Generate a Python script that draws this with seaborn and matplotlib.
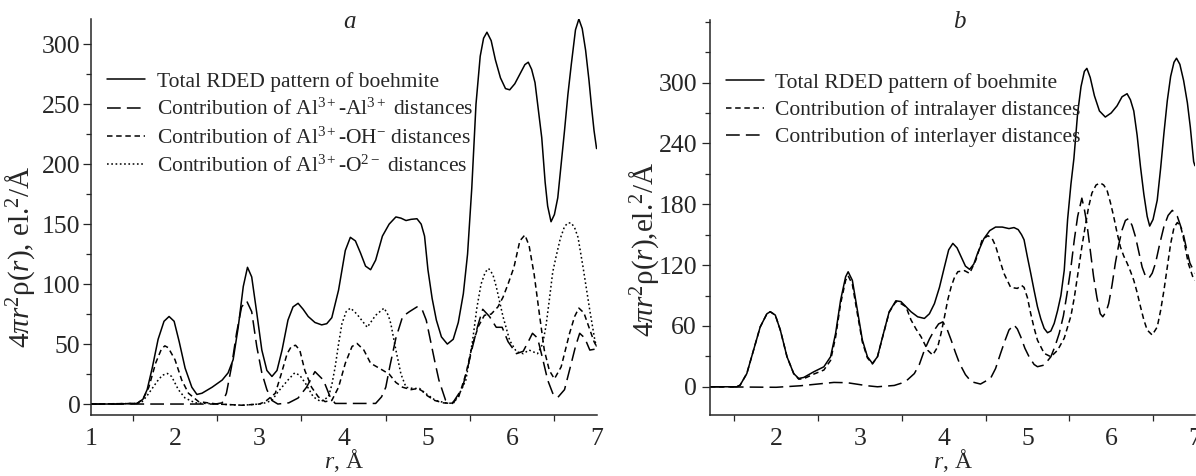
import numpy as np
import pandas as pd
import seaborn as sns
import matplotlib
matplotlib.use("Agg")
import matplotlib.pyplot as plt
from matplotlib.lines import Line2D
from matplotlib.ticker import MultipleLocator

# ---------------- data: panel a ----------------
r_total_a = [1.0, 1.3, 1.55, 1.62, 1.67, 1.73, 1.80, 1.87, 1.93, 1.99, 2.05, 2.12, 2.20, 2.26, 2.32,
             2.44, 2.56, 2.63, 2.69, 2.75, 2.81, 2.86, 2.91, 2.97, 3.03, 3.09, 3.15, 3.21, 3.27, 3.34,
             3.40, 3.46, 3.52, 3.58, 3.66, 3.74, 3.80, 3.86, 3.94, 4.02, 4.08, 4.14, 4.20, 4.26, 4.32,
             4.38, 4.46, 4.54, 4.62, 4.68, 4.74, 4.80, 4.87, 4.92, 4.96, 5.00, 5.05, 5.10, 5.16, 5.23,
             5.30, 5.36, 5.42, 5.47, 5.52, 5.57, 5.62, 5.66, 5.70, 5.75, 5.80, 5.86, 5.92, 5.97, 6.03,
             6.09, 6.15, 6.19, 6.23, 6.27, 6.31, 6.35, 6.39, 6.42, 6.46, 6.50, 6.54, 6.58, 6.62, 6.66,
             6.70, 6.75, 6.79, 6.83, 6.87, 6.91, 6.94, 6.97, 7.0]
total_a = [0, 0, 0.5, 4, 12, 30, 54, 69, 73, 69, 52, 30, 14, 8, 9,
           14, 20, 26, 37, 64, 98, 114, 106, 76, 45, 28, 23, 28, 45, 70,
           81, 84, 79, 73, 68, 66, 67, 72, 95, 128, 139, 136, 126, 115, 112,
           120, 140, 150, 156, 155, 153, 154, 154.5, 150, 140, 112, 88, 70, 56, 50,
           54, 68, 92, 125, 180, 250, 290, 305, 310, 303, 287, 272, 263, 262, 267,
           275, 283, 285, 279, 268, 245, 222, 185, 165, 152, 158, 172, 200, 228, 258,
           283, 312, 321, 313, 295, 270, 248, 228, 213]

r_alal = [1.0, 2.48, 2.56, 2.61, 2.67, 2.73, 2.79, 2.85, 2.91, 2.97, 3.03, 3.09, 3.15, 3.22, 3.35,
          3.46, 3.56, 3.66, 3.76, 3.84, 3.90, 4.38, 4.45, 4.50, 4.55, 4.62, 4.70, 4.78, 4.87, 4.93,
          4.98, 5.03, 5.08, 5.13, 5.21, 5.29, 5.36, 5.41, 5.47, 5.53, 5.59, 5.65, 5.73, 5.81, 5.88,
          5.95, 6.05, 6.13, 6.19, 6.24, 6.30, 6.36, 6.42, 6.48, 6.54, 6.62, 6.70, 6.75, 6.80, 6.86,
          6.92, 7.0]
alal = [0, 0, 1, 9, 31, 59, 81, 86, 77, 48, 26, 12, 3, 0, 1,
        5, 14, 27, 20, 6, 0.5, 0.5, 6, 14, 32, 55, 73, 77, 81, 79,
        70, 53, 36, 20, 3, 0.5, 8, 14, 30, 48, 65, 79, 73, 64, 64,
        52, 42, 44, 52, 59, 55, 38, 20, 9, 5.5, 12, 34, 48, 59, 55,
        45, 46]

r_aloh = [1.0, 1.55, 1.62, 1.69, 1.77, 1.84, 1.88, 1.92, 2.0, 2.08, 2.16, 2.28, 2.5, 2.8, 3.0,
          3.07, 3.19, 3.26, 3.33, 3.38, 3.43, 3.48, 3.54, 3.62, 3.70, 3.78, 3.86, 3.94, 4.02, 4.10,
          4.16, 4.24, 4.32, 4.42, 4.54, 4.62, 4.70, 4.80, 4.88, 4.93, 4.98, 5.08, 5.18, 5.28, 5.36,
          5.45, 5.53, 5.60, 5.67, 5.75, 5.83, 5.89, 5.95, 6.02, 6.09, 6.15, 6.20, 6.26, 6.32, 6.38,
          6.44, 6.50, 6.58, 6.68, 6.74, 6.79, 6.85, 6.92, 6.97, 7.0]
aloh = [0, 0.5, 4, 14, 34, 46, 48.5, 47, 37, 20, 9, 2, 0, -1, 0,
        2, 9, 25, 42, 48, 49, 45, 28, 14, 6, 2, 3, 14, 34, 48,
        50.5, 45, 34, 30, 25, 18, 14, 12, 13, 11, 7.5, 3, 1, 0.5, 5,
        25, 50, 65, 74, 75, 81, 89, 100, 114, 136, 141, 132, 108, 76, 45,
        28, 21, 31, 59, 73, 80, 76, 62, 52, 48]

r_alo = [1.0, 1.55, 1.61, 1.67, 1.73, 1.79, 1.85, 1.91, 1.96, 2.04, 2.12, 2.24, 2.5, 2.8, 3.0,
         3.07, 3.15, 3.22, 3.28, 3.34, 3.42, 3.48, 3.55, 3.64, 3.73, 3.82, 3.86, 3.90, 3.94, 3.98,
         4.03, 4.08, 4.13, 4.18, 4.28, 4.38, 4.48, 4.53, 4.56, 4.62, 4.68, 4.74, 4.82, 4.90, 4.97,
         5.09, 5.21, 5.30, 5.37, 5.45, 5.53, 5.58, 5.63, 5.68, 5.72, 5.77, 5.81, 5.89, 5.97, 6.05,
         6.13, 6.20, 6.30, 6.36, 6.40, 6.44, 6.48, 6.52, 6.57, 6.62, 6.66, 6.70, 6.74, 6.78, 6.84,
         6.92, 6.98, 7.0]
alo = [0, 0.5, 2, 7, 13, 19, 24, 25.5, 23, 12, 5, 1, 0, -1, 0,
       1, 3, 10, 15, 20, 26, 24, 17, 6, 2, 6, 16, 31, 50, 67,
       77, 80, 77, 73, 64, 74, 80, 74, 67, 45, 25, 14, 13, 13, 9,
       3, 1, 0.5, 8, 20, 53, 80, 100, 110, 113, 108, 98, 73, 53, 43.6,
       42, 45, 42, 50, 65, 87, 110, 123, 138, 148, 151, 151, 147, 139, 114,
       78, 53, 48]

# ---------------- data: panel b ----------------
r_total_b = [1.21, 1.53, 1.57, 1.65, 1.73, 1.81, 1.89, 1.93, 1.99, 2.05, 2.13, 2.21, 2.27, 2.33, 2.45,
             2.57, 2.65, 2.71, 2.77, 2.83, 2.86, 2.91, 2.97, 3.03, 3.09, 3.15, 3.21, 3.27, 3.35, 3.43,
             3.49, 3.55, 3.61, 3.69, 3.77, 3.83, 3.89, 3.95, 4.01, 4.06, 4.11, 4.16, 4.21, 4.26, 4.31,
             4.36, 4.405, 4.48, 4.55, 4.62, 4.70, 4.78, 4.84, 4.89, 4.93, 4.96, 5.00, 5.04, 5.08, 5.12,
             5.16, 5.20, 5.24, 5.28, 5.32, 5.36, 5.40, 5.44, 5.48, 5.52, 5.555, 5.60, 5.64, 5.68, 5.71,
             5.75, 5.80, 5.86, 5.93, 6.00, 6.07, 6.13, 6.19, 6.23, 6.27, 6.31, 6.35, 6.39, 6.43, 6.46,
             6.50, 6.55, 6.59, 6.63, 6.67, 6.71, 6.75, 6.78, 6.82, 6.865, 6.91, 6.945, 6.985, 7.0]
total_b = [0, 0, 1.6, 13, 36, 59, 72, 74, 70.7, 56, 29.6, 13, 8.2, 9.2, 14.8,
           19.7, 29.6, 52.6, 85.5, 108.5, 113.4, 105, 75.6, 46, 29.6, 23, 29.6, 49, 74, 84.8,
           84, 79, 74, 69, 67.4, 72, 82, 98, 118.4, 135, 141.4, 137, 128, 119, 115.8,
           121, 131.6, 146, 154, 157.5, 157.5, 156, 157, 155, 150, 145, 128, 111.8, 95, 79,
           67, 57.6, 53.3, 55, 62.5, 75, 90, 115, 165, 200, 225, 270, 296, 311, 314,
           305, 287, 272, 266, 270, 277, 286, 289, 283, 272, 248, 217, 190, 168, 158.5,
           165, 184, 215, 250, 282, 306, 320, 324, 318, 302, 280, 256, 222, 218]

r_intra = [1.21, 1.53, 1.57, 1.65, 1.73, 1.81, 1.89, 1.93, 1.99, 2.05, 2.13, 2.21, 2.27, 2.33, 2.45,
           2.57, 2.65, 2.71, 2.77, 2.83, 2.86, 2.91, 2.97, 3.03, 3.09, 3.15, 3.21, 3.27, 3.35, 3.43,
           3.49, 3.55, 3.61, 3.67, 3.73, 3.81, 3.87, 3.93, 3.97, 4.01, 4.05, 4.09, 4.13, 4.17, 4.25,
           4.31, 4.385, 4.46, 4.53, 4.58, 4.62, 4.67, 4.72, 4.80, 4.88, 4.93, 4.96, 5.00, 5.04, 5.08,
           5.12, 5.20, 5.28, 5.36, 5.44, 5.52, 5.56, 5.60, 5.65, 5.69, 5.73, 5.77, 5.82, 5.87, 5.91,
           5.95, 5.99, 6.03, 6.07, 6.11, 6.15, 6.19, 6.23, 6.27, 6.31, 6.35, 6.39, 6.43, 6.49, 6.55,
           6.59, 6.63, 6.67, 6.71, 6.75, 6.79, 6.83, 6.86, 6.92, 6.98, 7.0]
intra = [0, 0, 1.6, 13, 36, 59, 72, 74, 70.7, 56, 29.6, 13, 7.5, 8, 12.5,
         16.5, 26, 49, 82, 105, 109.5, 101, 72, 44, 28.5, 22.5, 29.6, 48.5, 73.5, 84,
         82, 79, 66, 57, 49.4, 36, 31.3, 39.5, 53, 69, 86, 98.7, 108, 113.5, 114.5,
         111.8, 125, 145, 149, 146, 139, 125, 111.8, 98, 97, 100, 98, 88, 72, 58,
         46, 33, 29.6, 36, 48, 70, 88, 110, 138, 158, 177, 191, 199, 201, 199,
         194, 182, 168, 152, 138, 129, 122, 114, 105, 93, 79, 66, 56, 51, 59,
         75, 95, 118, 141, 157, 162, 158, 148, 122, 107, 105]

r_inter = [1.21, 2.0, 2.29, 2.69, 2.85, 3.09, 3.21, 3.41, 3.49, 3.57, 3.65, 3.71, 3.77, 3.83, 3.89,
           3.94, 3.99, 4.04, 4.09, 4.14, 4.19, 4.26, 4.33, 4.44, 4.56, 4.62, 4.68, 4.73, 4.78, 4.84,
           4.88, 4.92, 4.97, 5.02, 5.08, 5.12, 5.20, 5.28, 5.33, 5.38, 5.43, 5.48, 5.52, 5.56, 5.60,
           5.65, 5.68, 5.71, 5.75, 5.79, 5.83, 5.87, 5.90, 5.94, 5.97, 6.01, 6.05, 6.09, 6.13, 6.17,
           6.21, 6.25, 6.29, 6.33, 6.37, 6.41, 6.45, 6.49, 6.53, 6.58, 6.63, 6.68, 6.73, 6.79, 6.86,
           6.90, 6.94, 7.0]
inter = [0, -0.5, 1, 4.3, 4, 1, 0, 1.3, 3.4, 7, 13, 22, 36, 47, 56,
         62, 64, 57, 46, 34, 23, 12, 5, 2.7, 8.3, 18, 33, 45, 56, 61,
         57, 49.4, 38, 29.6, 22, 19.8, 21.4, 29.6, 40, 52.7, 70, 95.4, 118, 145, 168,
         186, 175, 161, 135, 108.6, 88, 72, 69, 74, 82, 100, 122, 140, 154.6, 164,
         166, 159, 148, 133, 118, 109, 107, 112, 122, 141, 158, 169, 174, 168, 151,
         136, 122, 112]

labels_a = ["Total RDED pattern of boehmite",
            r"Contribution of Al$^{3+}$-Al$^{3+}$ distances",
            r"Contribution of Al$^{3+}$-OH$^{-}$ distances",
            r"Contribution of Al$^{3+}$-O$^{2-}$ distances"]
labels_b = ["Total RDED pattern of boehmite",
            "Contribution of intralayer distances",
            "Contribution of interlayer distances"]
yticks_a = [0, 50, 100, 150, 200, 250, 300]
yticks_b = [0, 60, 120, 180, 240, 300]
xticks = [1, 2, 3, 4, 5, 6, 7]

# ---------------- style ----------------
sns.set_style("ticks")
plt.rcParams["font.family"] = ["Liberation Serif", "DejaVu Serif"]
plt.rcParams["mathtext.fontset"] = "custom"
plt.rcParams["mathtext.rm"] = "Liberation Serif"
plt.rcParams["mathtext.it"] = "Liberation Serif:italic"
plt.rcParams["mathtext.bf"] = "Liberation Serif:bold"

FS = 15.5      # legend
TFS = 18.5     # tick labels
XLFS = 17      # x label
YLFS = 21      # y label
LW = 1.1
SOLID = "-"
LONG = (0, (9, 4))
SHORT = (0, (3.6, 2.4))
DOT = (0, (1.1, 1.7))

fig = plt.figure(figsize=(11.96, 4.76), dpi=100)
axa = fig.add_axes([0.0758, 0.128, 0.423, 0.833])
axb = fig.add_axes([0.5936, 0.128, 0.4055, 0.830])


def draw(ax, r, v, ls):
    sns.lineplot(x=r, y=v, ax=ax, color="black", lw=LW, linestyle=ls, sort=False,
                 estimator=None, legend=False)


draw(axa, r_alal, alal, LONG)
draw(axa, r_aloh, aloh, SHORT)
draw(axa, r_alo, alo, DOT)
draw(axa, r_total_a, total_a, SOLID)

draw(axb, r_inter, inter, LONG)
draw(axb, r_intra, intra, SHORT)
draw(axb, r_total_b, total_b, SOLID)

for ax in (axa, axb):
    for s in ("top", "right"):
        ax.spines[s].set_visible(False)
    for s in ("left", "bottom"):
        ax.spines[s].set_linewidth(1.1)
    ax.set_xticks(xticks)
    ax.xaxis.set_minor_locator(MultipleLocator(0.5))
    ax.tick_params(axis="x", which="major", length=0, pad=9, labelsize=TFS)
    ax.tick_params(axis="x", which="minor", length=4.5, width=0.9, direction="out")
    ax.tick_params(axis="y", which="major", length=5.8, width=0.9, pad=1.5, labelsize=TFS)
    ax.tick_params(axis="y", which="minor", length=3.6, width=0.9)
    ax.set_xlabel(r"$r$, Å", fontsize=XLFS, labelpad=-1.5)

axa.set_xlim(1, 7)
axa.set_ylim(-9.2, 321.4)
axa.set_yticks(yticks_a)
axa.yaxis.set_minor_locator(MultipleLocator(25))
axa.set_ylabel(r"4$\pi r^2$ρ($r$), el.$^2$/Å", fontsize=YLFS)
axa.yaxis.set_label_coords(-0.106, 0.40)
axa.text(0.512, 0.975, "a", transform=axa.transAxes, fontsize=18, style="italic",
         ha="center", va="baseline")

axb.set_xlim(1.21, 7)
axb.set_ylim(-27.9, 361.7)
axb.set_yticks(yticks_b)
axb.yaxis.set_minor_locator(MultipleLocator(30))
axb.set_ylabel(r"4$\pi r^2$ρ($r$),el.$^2$/Å", fontsize=YLFS)
axb.yaxis.set_label_coords(-0.100, 0.42)
axb.tick_params(axis="y", which="major", pad=3.5)
axb.text(0.515, 0.98, "b", transform=axb.transAxes, fontsize=18, style="italic",
         ha="center", va="baseline")

hs_a = [Line2D([], [], color="black", lw=LW, linestyle=s) for s in (SOLID, LONG, SHORT, DOT)]
hs_b = [Line2D([], [], color="black", lw=LW, linestyle=s) for s in (SOLID, SHORT, LONG)]
leg_kw = dict(frameon=False, fontsize=FS, handlelength=1.75, handletextpad=0.55,
              labelspacing=0.33, borderpad=0, borderaxespad=0, loc="upper left")
fig.legend(hs_a, labels_a, bbox_to_anchor=(0.0895, 0.849), **leg_kw)
fig.legend(hs_b, labels_b, bbox_to_anchor=(0.607, 0.847), **leg_kw)

fig.savefig("out.png", dpi=100)
